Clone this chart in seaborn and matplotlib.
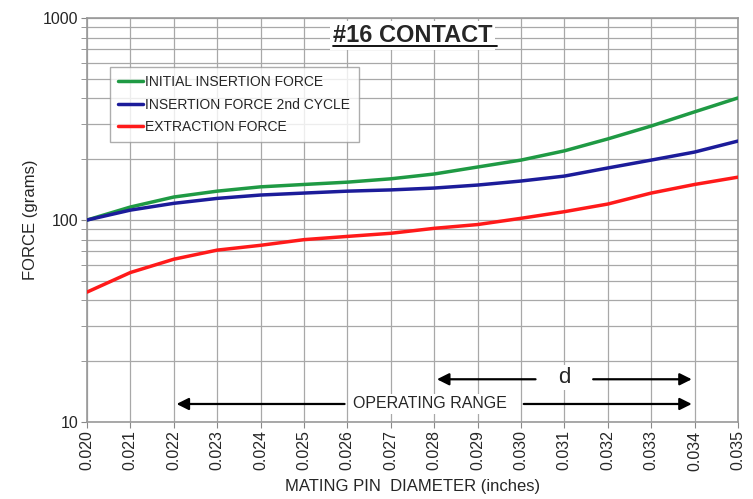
import pandas as pd
import seaborn as sns
import matplotlib.pyplot as plt
import numpy as np

# values
Diameter = [0.020, 0.021, 0.022, 0.023, 0.024, 0.025, 0.026, 0.027,
            0.028, 0.029, 0.030, 0.031, 0.032, 0.033, 0.034, 0.035]
InitialInsertion = [100, 116, 130, 139, 146, 150, 154, 160,
                    169, 183, 198, 220, 252, 292, 343, 402]
SecondInsertion = [100, 112, 121, 128, 133, 136, 139, 141,
                   144, 149, 156, 165, 181, 198, 217, 246]
Extraction = [44, 55, 64, 71, 75, 80, 83, 86,
              91, 95, 102, 110, 120, 136, 150, 163]
SeriesNames = ['INITIAL INSERTION FORCE', 'INSERTION FORCE 2nd CYCLE', 'EXTRACTION FORCE']
SeriesColors = ['#1f9a44', '#1c1c9a', '#ff1a1a']
XTicks = [0.020, 0.021, 0.022, 0.023, 0.024, 0.025, 0.026, 0.027,
          0.028, 0.029, 0.030, 0.031, 0.032, 0.033, 0.034, 0.035]
OperatingRange = [0.022, 0.034]
DRange = [0.028, 0.034]

Data = pd.DataFrame({
    'Diameter': Diameter * 3,
    'Force': InitialInsertion + SecondInsertion + Extraction,
    'Series': [SeriesNames[0]] * 16 + [SeriesNames[1]] * 16 + [SeriesNames[2]] * 16,
})

sns.set_style('white')
plt.rcParams['font.family'] = ['Liberation Sans', 'DejaVu Sans']

fig = plt.figure(figsize=(7.53, 4.99), dpi=100)
ax = fig.add_axes([0.1155, 0.154, 0.8645, 0.81])

sns.lineplot(data=Data, x='Diameter', y='Force', hue='Series',
             palette=dict(zip(SeriesNames, SeriesColors)), linewidth=2.5, ax=ax, zorder=3)

ax.set_yscale('log')
ax.set_xlim(0.020, 0.035)
ax.set_ylim(10, 1000)
ax.set_xticks(XTicks)
ax.set_xticklabels([f'{t:.3f}' for t in XTicks], rotation=90, fontsize=11.5)
ax.set_yticks([10, 100, 1000])
ax.set_yticklabels(['10', '100', '1000'], fontsize=11.5)
ax.yaxis.set_minor_formatter(plt.NullFormatter())
ax.tick_params(axis='both', which='major', length=4, color='#888888', direction='out', pad=2)
ax.tick_params(axis='y', which='minor', length=4, color='#888888')
ax.tick_params(axis='x', bottom=True)
ax.tick_params(axis='y', left=True, which='both')
ax.grid(True, which='major', color='#a8a8a8', linewidth=0.9)
ax.grid(True, which='minor', axis='y', color='#a8a8a8', linewidth=0.9)
for s in ax.spines.values():
    s.set_color('#999999')
    s.set_linewidth(1.2)

ax.set_xlabel('MATING PIN  DIAMETER (inches)', fontsize=12, labelpad=6)
ax.set_ylabel('FORCE (grams)', fontsize=12, labelpad=4)

leg = ax.legend(loc='upper left', bbox_to_anchor=(0.035, 0.879), fontsize=10,
                frameon=True, fancybox=False, handlelength=1.8, handletextpad=0.15,
                borderpad=0.6, labelspacing=0.6, borderaxespad=0)
leg.get_frame().set_edgecolor('#999999')
leg.get_frame().set_linewidth(1.0)
for h in leg.get_lines():
    h.set_linewidth(2.5)

# title, underlined, with white box behind
ax.text(0.5, 0.956, '#16 CONTACT', transform=ax.transAxes, ha='center', va='center',
        fontsize=17, zorder=5, fontweight='bold',
        bbox=dict(facecolor='white', edgecolor='none', pad=2))
ax.plot([0.378, 0.630], [0.930, 0.930], transform=ax.transAxes, color='black', lw=1.3, zorder=6)

# arrows
arrow = dict(arrowstyle='-|>', color='black', lw=1.6, mutation_scale=18)
ax.annotate('', xy=(OperatingRange[0], 12.3), xytext=(0.0260, 12.3), arrowprops=arrow, zorder=5)
ax.annotate('', xy=(OperatingRange[1], 12.3), xytext=(0.0300, 12.3), arrowprops=arrow, zorder=5)
ax.text(0.0279, 12.3, 'OPERATING RANGE', ha='center', va='center', fontsize=11.5, zorder=5,
        bbox=dict(facecolor='white', edgecolor='none', pad=1.5))
ax.annotate('', xy=(DRange[0], 16.3), xytext=(0.0304, 16.3), arrowprops=arrow, zorder=5)
ax.annotate('', xy=(DRange[1], 16.3), xytext=(0.0316, 16.3), arrowprops=arrow, zorder=5)
ax.text(0.0310, 16.6, 'd', ha='center', va='center', fontsize=16, zorder=5,
        bbox=dict(facecolor='white', edgecolor='none', pad=1.5))

plt.savefig('out.png', dpi=100)
